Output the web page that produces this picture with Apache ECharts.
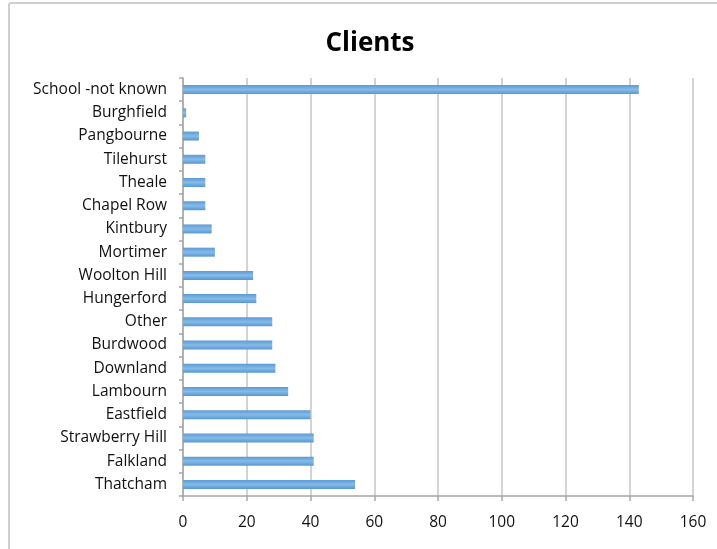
<!DOCTYPE html>
<html>
<head>
<meta charset="utf-8">
<script src="https://cdn.jsdelivr.net/npm/echarts@6/dist/echarts.min.js"></script>
<style>
html,body{margin:0;padding:0;background:#fff;overflow:hidden;}
#frame{position:absolute;left:8px;top:2px;width:760px;height:600px;border:2px solid #cfcfcf;border-radius:3px;box-sizing:border-box;}
#chart{position:absolute;left:0;top:0;width:717px;height:549px;}
</style>
</head>
<body>
<div id="frame"></div>
<div id="chart"></div>
<script>
const categories = ["Thatcham","Falkland","Strawberry Hill","Eastfield","Lambourn","Downland","Burdwood","Other","Hungerford","Woolton Hill","Mortimer","Kintbury","Chapel Row","Theale","Tilehurst","Pangbourne","Burghfield","School -not known"];
const clients = [54,41,41,40,33,29,28,28,23,22,10,9,7,7,7,5,1,143];
const xTicks = [0,20,40,60,80,100,120,140,160];

const chart = echarts.init(document.getElementById('chart'));
chart.setOption({
  animation:false,
  title:{text:'Clients',left:365,top:26,textAlign:'center',textStyle:{fontFamily:'Open Sans',fontWeight:'bold',fontSize:26,color:'#000'}},
  grid:{left:183,right:24,top:78,bottom:53},
  xAxis:{type:'value',min:xTicks[0],max:xTicks[xTicks.length-1],interval:20,
    axisLine:{show:true,lineStyle:{color:'#a6a6a6',width:1.5}},
    axisTick:{show:true,length:5,lineStyle:{color:'#a6a6a6',width:1.5}},
    axisLabel:{margin:19,fontFamily:'Open Sans',fontSize:15.5,color:'#111'},
    splitLine:{show:true,lineStyle:{color:'#c4c4c4',width:1.5}}},
  yAxis:{type:'category',data:categories,
    axisLine:{show:true,lineStyle:{color:'#a6a6a6',width:1.5}},
    axisTick:{show:true,length:4,lineStyle:{color:'#a6a6a6',width:1.5}},
    axisLabel:{margin:16,fontFamily:'Open Sans',fontSize:15.5,color:'#111'}},
  series:[{type:'bar',data:clients,barWidth:9,
    itemStyle:{color:new echarts.graphic.LinearGradient(0,0,0,1,[
      {offset:0,color:'#5a9ad5'},{offset:0.5,color:'#86bbe7'},{offset:1,color:'#5797d3'}])}}]
});
</script>
</body>
</html>
